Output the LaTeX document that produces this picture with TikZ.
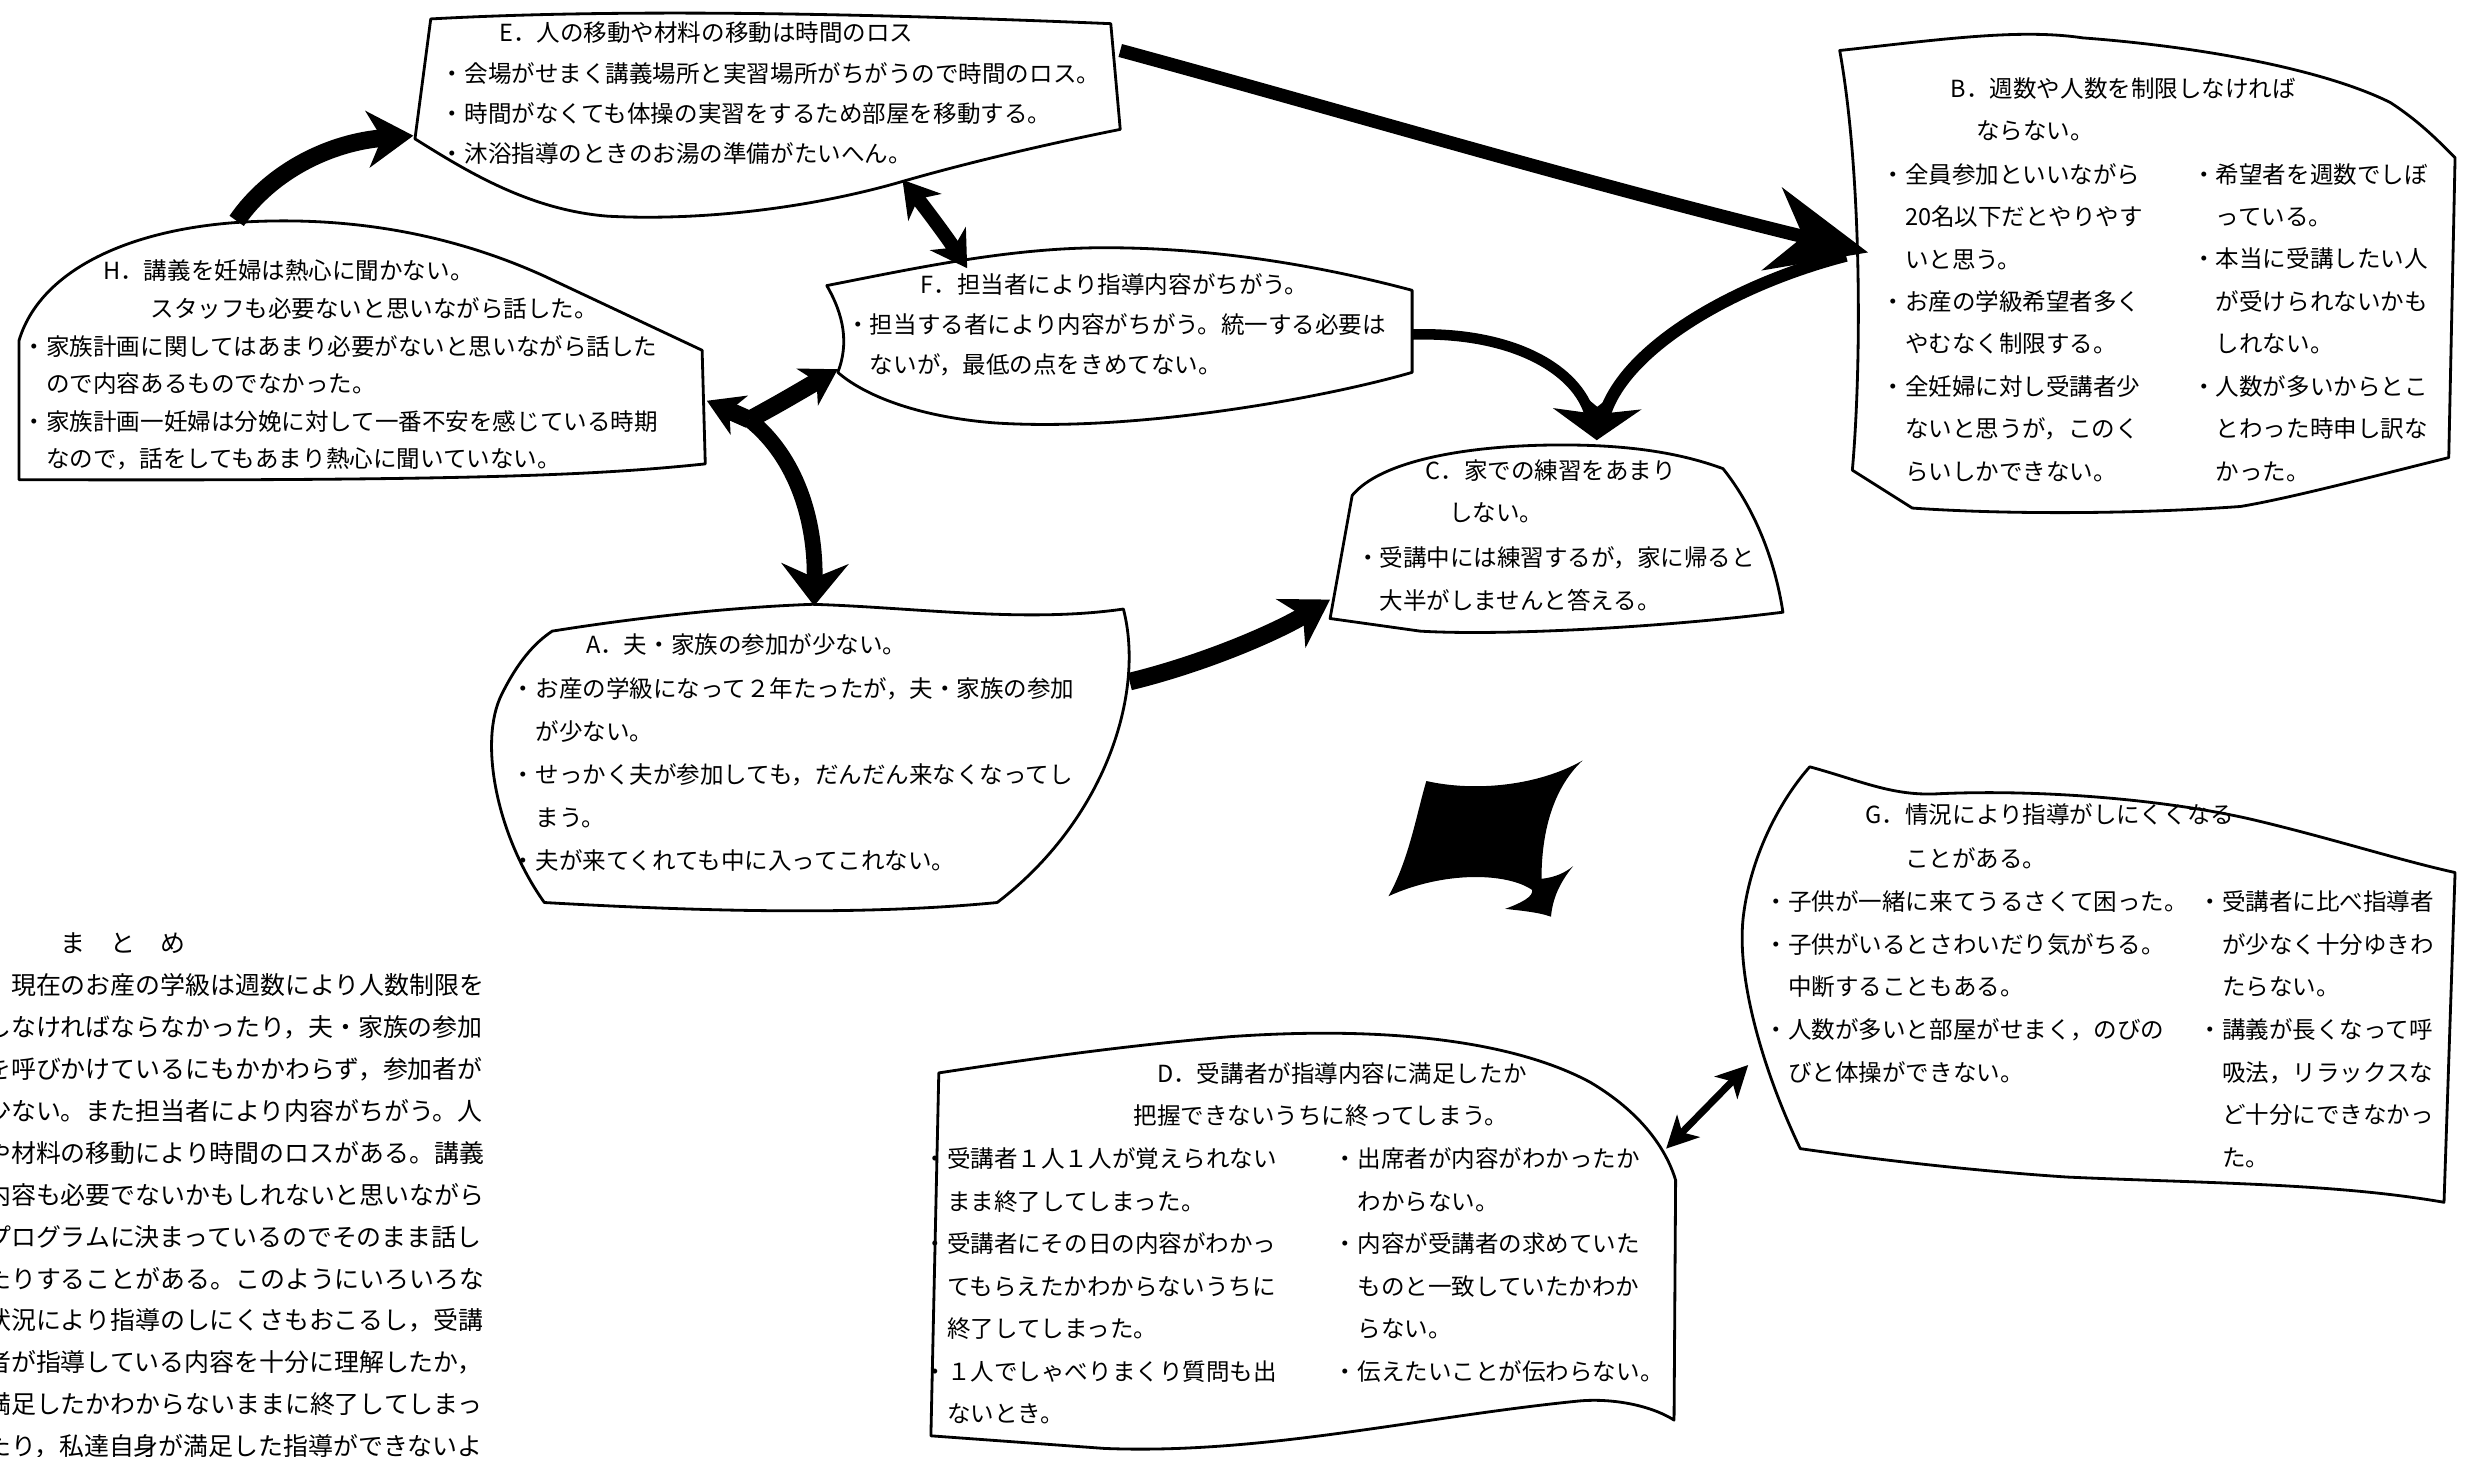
\documentclass[tikz,border=0pt]{standalone}
\usepackage{fontspec}
\newfontfamily\jp{Noto Sans CJK JP}
\usetikzlibrary{arrows.meta}
\tikzset{
  hdBig/.tip={Stealth[length=28pt,width=24pt,inset=9pt]},
  hdMid/.tip={Stealth[length=13pt,width=16pt,inset=4pt]},
  hdSm/.tip={Stealth[length=10pt,width=12pt,inset=3pt]},
  hdTiny/.tip={Stealth[length=9pt,width=9pt,inset=2.5pt]},
  hdDown/.tip={Stealth[length=12pt,width=19pt,inset=4pt]},
}
\begin{document}
\begin{tikzpicture}[x=0.1578mm,y=-0.1578mm,
  box/.style={draw=black,line width=0.8pt,line join=round},
  txt/.style={font=\jp\fontsize{6.7pt}{#1}\selectfont,anchor=north west,inner sep=0pt,align=left},
  txt/.default=12.1pt,
  sumtxt/.style={font=\jp\fontsize{7.09pt}{11.94pt}\selectfont,anchor=north west,inner sep=0pt,align=left},
  fat/.style={line width=#1,line cap=butt,line join=round},
]
\useasboundingbox (0,0) rectangle (1568,923);
\fill[white] (0,0) rectangle (1568,923);

% ---------- outlines ----------
% E
\draw[box] (273,12) .. controls (400,5) and (560,9) .. (704,15) -- (710,82)
  .. controls (660,92) and (610,104) .. (572,115)
  .. controls (510,133) and (440,140) .. (385,137)
  .. controls (335,133) and (295,108) .. (263,88) -- cycle;
% H
\draw[box] (12,304) -- (12,216) .. controls (25,172) and (80,146) .. (150,141)
  .. controls (225,136) and (290,150) .. (345,175) -- (445,222) -- (447,294)
  .. controls (380,301) and (300,305) .. (12,304) -- cycle;
% F
\draw[box] (524,181) .. controls (580,170) and (640,157) .. (700,157)
  .. controls (780,157) and (850,172) .. (895,184) -- (895,236)
  .. controls (840,252) and (720,274) .. (630,268)
  .. controls (580,264) and (547,250) .. (531,236)
  .. controls (538,218) and (535,200) .. (524,181) -- cycle;
% C
\draw[box] (843,392) -- (857,314) .. controls (875,292) and (930,282) .. (990,282)
  .. controls (1040,282) and (1070,289) .. (1092,297)
  .. controls (1112,322) and (1125,355) .. (1130,388)
  .. controls (1050,398) and (950,403) .. (900,400) -- (843,392) -- cycle;
% A
\draw[box] (350,400) .. controls (400,392) and (460,385) .. (515,383)
  .. controls (580,385) and (650,395) .. (712,386)
  .. controls (726,440) and (700,520) .. (632,572)
  .. controls (550,580) and (450,578) .. (345,572)
  .. controls (315,530) and (303,470) .. (318,440)
  .. controls (328,420) and (338,408) .. (350,400) -- cycle;
% B
\draw[box] (1166,32) .. controls (1230,25) and (1280,18) .. (1320,24)
  .. controls (1400,30) and (1475,45) .. (1515,65)
  .. controls (1535,78) and (1548,92) .. (1556,100) -- (1552,290)
  .. controls (1500,303) and (1450,316) .. (1420,321)
  .. controls (1350,326) and (1270,326) .. (1212,322) -- (1174,298)
  .. controls (1180,230) and (1180,110) .. (1166,32) -- cycle;
% G
\draw[box] (1147,486) .. controls (1180,495) and (1200,505) .. (1230,503)
  .. controls (1300,500) and (1380,508) .. (1430,520)
  .. controls (1480,532) and (1520,545) .. (1556,553) -- (1549,762)
  .. controls (1480,750) and (1400,750) .. (1310,746)
  .. controls (1250,742) and (1190,735) .. (1141,728)
  .. controls (1118,680) and (1100,620) .. (1105,580)
  .. controls (1110,540) and (1130,505) .. (1147,486) -- cycle;
% D
\draw[box] (595,680) .. controls (660,670) and (720,662) .. (780,657)
  .. controls (880,650) and (960,660) .. (1008,686)
  .. controls (1040,705) and (1056,728) .. (1062,748) -- (1061,900)
  .. controls (1045,890) and (1020,886) .. (1000,888)
  .. controls (900,898) and (800,922) .. (700,918) -- (590,910) -- cycle;

% ---------- texts ----------
\node[txt=11.45pt] (Et) at (316,13) {E．人の移動や材料の移動は時間のロス};
\node[txt=11.45pt] (Eb) at (279,39) {・会場がせまく講義場所と実習場所がちがうので時間のロス。\\・時間がなくても体操の実習をするため部屋を移動する。\\・沐浴指導のときのお湯の準備がたいへん。};

\node[txt] (Bt) at (1236,49) {B．週数や人数を制限しなければ};
\node[txt] (Bt2) at (1252,76) {ならない。};
\node[txt=12.08pt] (Bl) at (1192,103) {・全員参加といいながら\\　20名以下だとやりやす\\　いと思う。\\・お産の学級希望者多く\\　やむなく制限する。\\・全妊婦に対し受講者少\\　ないと思うが，このく\\　らいしかできない。};
\node[txt=12.08pt] (Br) at (1389,103) {・希望者を週数でしぼ\\　っている。\\・本当に受講したい人\\　が受けられないかも\\　しれない。\\・人数が多いからとこ\\　とわった時申し訳な\\　かった。};

\node[txt] (Ht) at (65,164) {H．講義を妊婦は熱心に聞かない。};
\node[txt] (Ht2) at (95,188) {スタッフも必要ないと思いながら話した。};
\node[txt=10.7pt] (Hb) at (14,212) {・家族計画に関してはあまり必要がないと思いながら話した\\　ので内容あるものでなかった。\\・家族計画一妊婦は分娩に対して一番不安を感じている時期\\　なので，話をしてもあまり熱心に聞いていない。};

\node[txt] (Ft) at (583,173) {F．担当者により指導内容がちがう。};
\node[txt=11.45pt] (Fb) at (536,198) {・担当する者により内容がちがう。統一する必要は\\　ないが，最低の点をきめてない。};

\node[txt] (Ct) at (903,291) {C．家での練習をあまり};
\node[txt] (Ct2) at (918,318) {しない。};
\node[txt=12.1pt] (Cb) at (859,346) {・受講中には練習するが，家に帰ると\\　大半がしませんと答える。};

\node[txt] (At) at (371,401) {A．夫・家族の参加が少ない。};
\node[txt=12.26pt] (Ab) at (324,429) {・お産の学級になって２年たったが，夫・家族の参加\\　が少ない。\\・せっかく夫が参加しても，だんだん来なくなってし\\　まう。\\・夫が来てくれても中に入ってこれない。};

\node[txt] (Gt) at (1182,509) {G．情況により指導がしにくくなる};
\node[txt] (Gt2) at (1207,537) {ことがある。};
\node[txt=12.15pt] (Gl) at (1118,564) {・子供が一緒に来てうるさくて困った。\\・子供がいるとさわいだり気がちる。\\　中断することもある。\\・人数が多いと部屋がせまく，のびの\\　びと体操ができない。};
\node[txt=12.15pt] (Gr) at (1393,564) {・受講者に比べ指導者\\　が少なく十分ゆきわ\\　たらない。\\・講義が長くなって呼\\　吸法，リラックスな\\　ど十分にできなかっ\\　た。};

\node[txt] (Dt) at (733,673) {D．受講者が指導内容に満足したか};
\node[txt] (Dt2) at (718,700) {把握できないうちに終ってしまう。};
\node[txt=12.1pt] (Dl) at (585,727) {・受講者１人１人が覚えられない\\　まま終了してしまった。\\・受講者にその日の内容がわかっ\\　てもらえたかわからないうちに\\　終了してしまった。\\・１人でしゃべりまくり質問も出\\　ないとき。};
\node[txt=12.1pt] (Dr) at (845,727) {・出席者が内容がわかったか\\　わからない。\\・内容が受講者の求めていた\\　ものと一致していたかわか\\　らない。\\・伝えたいことが伝わらない。};

\begin{scope}
\clip (0,0) rectangle (1568,923);
\node[sumtxt] (S) at (-9.2,590.6) {　　　ま　と　め\\　現在のお産の学級は週数により人数制限を\\しなければならなかったり，夫・家族の参加\\を呼びかけているにもかかわらず，参加者が\\少ない。また担当者により内容がちがう。人\\や材料の移動により時間のロスがある。講義\\内容も必要でないかもしれないと思いながら\\プログラムに決まっているのでそのまま話し\\たりすることがある。このようにいろいろな\\状況により指導のしにくさもおこるし，受講\\者が指導している内容を十分に理解したか，\\満足したかわからないままに終了してしまっ\\たり，私達自身が満足した指導ができないよ};
\end{scope}

% ---------- connector end points ----------
\coordinate (Hout) at (150,140);
\coordinate (Ein) at (262,86);
\coordinate (Eout) at (710,32);
\coordinate (Bin) at (1184,160);
\coordinate (Ebot) at (572,114);
\coordinate (Ftop) at (613,170);
\coordinate (Fout) at (895,212);
\coordinate (Bout) at (1170,162);
\coordinate (Cin) at (1012,279);
\coordinate (J) at (475,266);
\coordinate (Hin) at (448,254);
\coordinate (Fin) at (531,234);
\coordinate (Ain) at (516,384);
\coordinate (Aout) at (716,432);
\coordinate (Cin2) at (843,380);
\coordinate (Din) at (1056,728);
\coordinate (Gin) at (1108,675);

% ---------- connectors ----------
\draw[fat=5pt,-{hdMid}] (Hout) .. controls (172,108) and (210,90) .. (Ein);
\draw[fat=3.8pt,-{hdBig}] (Eout) .. controls (850,70) and (1000,115) .. (Bin);
\draw[fat=4pt,{hdSm}-{hdSm}] (Ebot) .. controls (585,130) and (600,150) .. (Ftop);
\draw[fat=3pt,-{hdDown}] (Fout) .. controls (960,210) and (1000,235) .. (Cin);
\draw[fat=3.5pt,-{hdDown}] (Bout) .. controls (1100,180) and (1030,220) .. (Cin);
\draw[fat=5pt,-{hdSm}] (J) -- (Hin);
\draw[fat=5pt,-{hdSm}] (J) .. controls (495,255) .. (Fin);
\draw[fat=4.5pt,-{hdDown}] (J) .. controls (505,290) and (517,330) .. (Ain);
\draw[fat=5pt,-{hdMid}] (Aout) .. controls (765,420) and (810,400) .. (Cin2);
\draw[fat=2pt,{hdTiny}-{hdTiny}] (Din) -- (Gin);

% ---------- black four-pointed figure ----------
\fill[black] (1003,482) .. controls (988,496) and (977,520) .. (977,557)
  .. controls (986,556) and (992,553) .. (997,549)
  .. controls (988,560) and (984,570) .. (983,581)
  .. controls (975,578) and (962,577) .. (954,576)
  .. controls (965,572) and (972,568) .. (971,564)
  .. controls (955,553) and (915,552) .. (880,568)
  .. controls (893,545) and (898,515) .. (904,495)
  .. controls (935,502) and (975,498) .. (1003,482) -- cycle;
\end{tikzpicture}
\end{document}
